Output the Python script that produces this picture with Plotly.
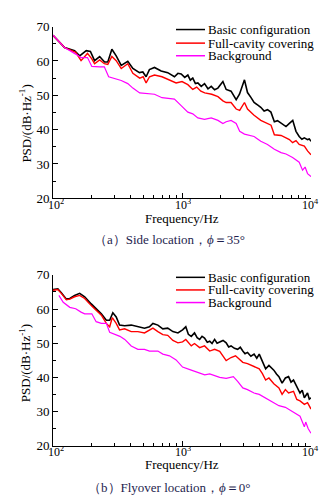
import plotly.graph_objects as go

# ---------------- data: (a) side location ----------------
fa_basic = [100, 123, 147, 161, 181, 195, 210, 230, 251, 266, 286, 309, 338, 380, 416, 468, 497, 527, 559,
            612, 689, 775, 874, 930, 985, 1050, 1110, 1160, 1212, 1270, 1327, 1410, 1495, 1590, 1685, 1790, 1897,
            2075, 2200, 2400, 2630, 2790, 3050, 3220, 3420, 3620, 3850, 4080, 4330, 4600, 4890, 5200, 5500, 5860,
            6100, 6400, 6800, 7220, 7650, 8100, 8500, 8880, 9400, 9700, 10000]
va_basic = [67.5, 63.9, 63.0, 61.5, 63.0, 62.8, 60.1, 61.3, 59.7, 59.7, 63.4, 61.5, 58.7, 59.9, 57.8, 56.6, 56.8,
            55.4, 57.5, 58.1, 57.1, 56.6, 55.4, 56.4, 56.2, 55.2, 55.9, 54.4, 55.0, 53.4, 53.6, 52.6, 53.4, 51.9,
            52.6, 51.6, 52.1, 54.0, 51.7, 51.2, 48.7, 50.3, 54.5, 50.8, 49.4, 47.9, 47.2, 46.5, 45.4, 45.8, 45.1,
            42.3, 42.6, 41.8, 41.3, 40.9, 41.8, 42.7, 39.5, 38.0, 37.2, 37.6, 37.1, 37.3, 36.6]

fa_full = [100, 123, 150, 165, 185, 200, 210, 230, 250, 266, 286, 309, 338, 380, 416, 470, 500, 527, 560, 612,
           700, 800, 900, 1000, 1110, 1212, 1300, 1400, 1500, 1700, 1900, 2075, 2200, 2400, 2630, 2800, 3050,
           3220, 3620, 4080, 4600, 4900, 5200, 5860, 6400, 6800, 7200, 7650, 8100, 8880, 9400, 10000]
va_full = [67.5, 63.9, 62.5, 60.1, 62.2, 60.6, 59.2, 60.3, 59.2, 59.0, 61.3, 60.1, 57.8, 59.2, 56.4, 55.0, 55.4,
           53.6, 55.4, 55.9, 55.4, 54.5, 53.6, 54.0, 53.1, 51.7, 52.4, 51.2, 50.7, 50.3, 49.6, 48.4, 47.9, 47.9,
           46.0, 45.6, 47.9, 46.0, 44.2, 42.7, 41.8, 41.3, 38.5, 38.3, 37.6, 37.1, 36.2, 36.8, 35.7, 35.2, 33.8, 32.7]

fa_back = [100, 123, 150, 165, 185, 200, 230, 250, 270, 300, 338, 380, 416, 470, 527, 612, 700, 800, 874, 985,
           1110, 1212, 1327, 1495, 1685, 1900, 2075, 2200, 2400, 2630, 2800, 3050, 3620, 4080, 4600, 5200, 5860,
           6400, 7200, 8100, 8600, 9000, 9400, 10000]
va_back = [67.5, 63.9, 62.0, 61.0, 61.0, 58.4, 58.3, 58.3, 55.4, 54.9, 54.3, 53.4, 52.1, 50.7, 50.5, 50.3, 49.3,
           49.0, 48.9, 47.0, 45.1, 44.6, 43.4, 43.0, 43.4, 42.7, 41.8, 42.3, 42.7, 41.8, 39.5, 38.7, 38.0, 36.6,
           35.7, 34.3, 33.3, 32.9, 31.9, 30.5, 28.2, 29.1, 27.2, 26.3]

# ---------------- data: (b) flyover location ----------------
fb_basic = [100, 109, 116, 127, 135, 147, 161, 176, 198, 216, 237, 259, 275, 291, 309, 328, 359, 404, 455, 512,
            559, 595, 650, 710, 775, 850, 930, 1010, 1070, 1120, 1180, 1250, 1310, 1370, 1430, 1495, 1570, 1640,
            1710, 1790, 1870, 1960, 2080, 2200, 2300, 2400, 2550, 2700, 2830, 2960, 3080, 3220, 3420, 3620, 3800,
            3970, 4200, 4450, 4720, 5150, 5400, 5640, 5970, 6330, 6700, 7000, 7320, 7760, 8220, 8550, 8880, 9400,
            9700, 10000]
vb_basic = [65.7, 65.9, 64.8, 62.9, 63.1, 64.0, 64.6, 63.6, 61.5, 60.1, 58.6, 56.7, 56.7, 58.9, 57.7, 55.3, 55.1,
            55.3, 54.8, 54.4, 54.8, 55.8, 55.3, 54.2, 54.4, 53.4, 53.0, 53.9, 54.8, 52.6, 52.0, 53.0, 51.6, 51.1,
            52.0, 51.5, 50.3, 50.6, 49.9, 51.1, 50.0, 50.4, 50.8, 50.1, 48.9, 49.2, 48.5, 48.2, 48.8, 47.7, 46.9,
            47.3, 46.2, 46.8, 45.6, 46.8, 44.9, 42.5, 43.5, 42.1, 41.0, 40.2, 38.3, 39.8, 40.2, 38.6, 39.2, 37.3,
            35.4, 36.2, 34.0, 35.4, 33.6, 34.0]

fb_full = [100, 109, 116, 127, 135, 147, 161, 176, 198, 216, 237, 259, 275, 288, 309, 328, 359, 404, 455, 512,
           559, 595, 650, 710, 775, 850, 930, 1010, 1070, 1180, 1250, 1370, 1495, 1640, 1790, 1960, 2200, 2400,
           2600, 2960, 3220, 3620, 3970, 4200, 4450, 4720, 5150, 5640, 5970, 6330, 6700, 7320, 7760, 8220,
           8880, 9400, 10000]
vb_full = [65.5, 65.7, 64.6, 62.7, 62.9, 63.6, 64.0, 63.1, 61.0, 59.6, 58.2, 55.8, 54.8, 57.5, 55.8, 53.9, 54.2,
           53.4, 53.4, 53.0, 53.9, 54.4, 53.4, 52.5, 52.3, 50.8, 50.1, 50.4, 51.1, 49.2, 49.9, 48.7, 49.2, 47.7,
           48.2, 47.6, 44.9, 45.8, 46.3, 44.4, 44.0, 43.1, 42.5, 41.1, 39.2, 39.8, 38.1, 36.9, 35.0, 36.4, 35.4,
           35.9, 33.5, 33.1, 32.1, 32.6, 30.7]

fb_back = [111, 120, 135, 150, 165, 176, 200, 216, 237, 259, 275, 300, 330, 360, 404, 455, 512, 560, 650, 710,
           800, 900, 1010, 1180, 1370, 1500, 1640, 1790, 1960, 2200, 2500, 2700, 2960, 3220, 3620, 3970, 4450,
           5150, 5640, 6330, 7320, 8220, 8880, 9100, 9500, 10000]
vb_back = [64.0, 62.0, 60.5, 60.1, 59.1, 58.6, 58.6, 56.3, 55.8, 55.8, 53.2, 52.7, 52.0, 51.1, 49.2, 48.2, 48.2,
           47.7, 47.7, 46.8, 46.3, 45.1, 43.0, 42.1, 41.1, 40.7, 41.0, 40.4, 40.0, 39.7, 40.2, 38.8, 36.9, 36.4,
           35.4, 35.0, 34.0, 32.6, 31.7, 31.2, 29.8, 28.6, 25.5, 26.9, 25.0, 23.6]

series_names = ["Basic configuration", "Full-cavity covering", "Background"]
series_colors = ["#000000", "#ff0000", "#ff00ff"]
series_widths = [1.6, 1.4, 1.2]
x_tickvals = [100, 1000, 10000]
x_ticktext = ["10<sup>2</sup>", "10<sup>3</sup>", "10<sup>4</sup>"]
x_minor = [200, 300, 400, 500, 600, 700, 800, 900, 2000, 3000, 4000, 5000, 6000, 7000, 8000, 9000]
captions = ["（a）Side location，<i>ϕ</i>＝35°", "（b）Flyover location，<i>ϕ</i>＝0°"]

W, H = 331, 497
FONT = "Liberation Serif"
X0, X1 = 45, 303

def py(px):
    return 1 - px / H

def pxx(px):
    return px / W

fig = go.Figure()

panels = [
    ([fa_basic, fa_full, fa_back], [va_basic, va_full, va_back], "x", "y"),
    ([fb_basic, fb_full, fb_back], [vb_basic, vb_full, vb_back], "x2", "y2"),
]
for fs, vs, xa, ya in panels:
    for i in range(3):
        fig.add_trace(go.Scatter(x=fs[i], y=vs[i], mode="lines", xaxis=xa, yaxis=ya,
                                 line=dict(color=series_colors[i], width=series_widths[i]),
                                 showlegend=False))

xdom = [pxx(X0), pxx(X1)]
doms = [[py(189), py(12)], [py(444), py(268)]]

def xax(anchor):
    return dict(type="log", range=[2, 4], domain=xdom, anchor=anchor,
                tickmode="array", tickvals=x_tickvals, showticklabels=False,
                ticks="inside", ticklen=5, tickcolor="black", showgrid=False, zeroline=False,
                showline=True, linecolor="black", linewidth=1, mirror=False,
                minor=dict(tickmode="array", tickvals=x_minor, ticks="inside", ticklen=3,
                           tickcolor="black", showgrid=False))

def yax(anchor, dom):
    return dict(range=[20, 70], domain=dom, anchor=anchor, dtick=10, tick0=20,
                ticks="inside", ticklen=5, tickcolor="black", showgrid=False, zeroline=False,
                showline=True, linecolor="black", linewidth=1, ticklabelstandoff=0,
                tickfont=dict(family=FONT, size=13, color="black"),
                minor=dict(dtick=5, ticks="inside", ticklen=3, tickcolor="black", showgrid=False))

fig.update_layout(
    width=W, height=H, margin=dict(l=0, r=0, t=0, b=0),
    paper_bgcolor="white", plot_bgcolor="white",
    xaxis=xax("y"), yaxis=yax("x", doms[0]),
    xaxis2=xax("y2"), yaxis2=yax("x2", doms[1]),
    showlegend=False,
)

annotations = []
shapes = []
legend_rows = [[15, 29, 42], [270.5, 283.5, 296.5]]
xtick_y = [195, 450]
xtitle_y = [210, 464]
ytitle_y = [112, 359]
caption_y = [231, 487]
xtick_px = [X0 + 3, (X0 + X1) / 2 + 1, X1 - 1]
for p in range(2):
    for i in range(3):
        yy = py(legend_rows[p][i])
        shapes.append(dict(type="line", xref="paper", yref="paper", x0=pxx(168), x1=pxx(197), y0=yy, y1=yy,
                           line=dict(color=series_colors[i], width=1.5)))
        annotations.append(dict(text=series_names[i], xref="paper", yref="paper", x=pxx(199), y=yy,
                                xanchor="left", yanchor="middle", showarrow=False, borderpad=0,
                                font=dict(family=FONT, size=13, color="black")))
    for xp, t in zip(xtick_px, x_ticktext):
        annotations.append(dict(text=t, xref="paper", yref="paper", x=pxx(xp),
                                y=py(xtick_y[p]), xanchor="center", yanchor="middle", showarrow=False,
                                height=11, borderpad=0,
                                font=dict(family=FONT, size=12, color="black")))
    annotations.append(dict(text="Frequency/Hz", xref="paper", yref="paper", x=pxx(174), y=py(xtitle_y[p]),
                            xanchor="center", yanchor="middle", showarrow=False, borderpad=0,
                            font=dict(family=FONT, size=13, color="black")))
    annotations.append(dict(text="PSD/(dB·Hz<sup>-1</sup>)", xref="paper", yref="paper", x=pxx(17),
                            y=py(ytitle_y[p]), textangle=-90, xanchor="center", yanchor="middle",
                            showarrow=False, font=dict(family=FONT, size=13, color="black")))
    annotations.append(dict(text=captions[p], xref="paper", yref="paper", x=pxx(161), y=py(caption_y[p]),
                            xanchor="center", yanchor="middle", showarrow=False,
                            font=dict(family=FONT, size=13, color="#1e1e4e")))

fig.update_layout(annotations=annotations, shapes=shapes)
fig.write_html("out.html")
